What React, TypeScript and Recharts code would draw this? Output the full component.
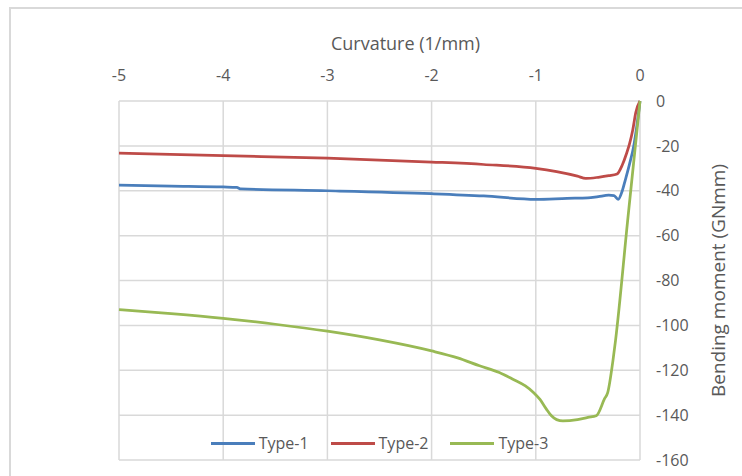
import React from 'react';
import { LineChart, Line, XAxis, YAxis, CartesianGrid, Legend, Label } from 'recharts';

// Type-1
const type1Curvature = [-5, -4.5, -4, -3.87, -3.83, -3, -2, -1.5, -1.0, -0.7, -0.5, -0.4, -0.3, -0.25, -0.21, -0.17, -0.14, -0.1, -0.06, -0.03, 0];
const type1Moment = [-37.5, -37.9, -38.3, -38.5, -39.2, -40.0, -41.3, -42.3, -43.8, -43.4, -43.2, -42.6, -42.0, -42.2, -43.8, -40.0, -35.0, -28.0, -20.0, -11.0, 0];

// Type-2
const type2Curvature = [-5, -4, -3, -2, -1.5, -1, -0.8, -0.6, -0.52, -0.4, -0.3, -0.22, -0.17, -0.13, -0.1, -0.07, -0.04, 0];
const type2Moment = [-23.2, -24.4, -25.5, -27.2, -28.3, -30.0, -31.5, -33.5, -34.5, -34.0, -33.3, -32.5, -28.5, -23.5, -19.0, -13.0, -5.0, 0];

// Type-3
const type3Curvature = [-5, -4.5, -4, -3.5, -3, -2.5, -2, -1.75, -1.54, -1.35, -1.22, -1.1, -1.02, -0.96, -0.9, -0.85, -0.8, -0.74, -0.6, -0.5, -0.42, -0.34, -0.31, -0.26, -0.235, -0.12, 0];
const type3Moment = [-93.0, -94.8, -96.9, -99.5, -102.6, -106.5, -111.4, -114.5, -118.0, -121.0, -124.0, -127.0, -130.0, -133.0, -137.2, -140.3, -142.0, -142.6, -142.0, -141.0, -140.3, -132.7, -130.0, -115.8, -106.8, -54.0, 0];

const xTicks = [-5, -4, -3, -2, -1, 0];
const yTicks = [0, -20, -40, -60, -80, -100, -120, -140, -160];

const seriesNames = ['Type-1', 'Type-2', 'Type-3'];
const seriesColors = ['#4A7EBB', '#BE4B48', '#98B954'];

const toPoints = (xs: number[], ys: number[]) => xs.map((x, i) => ({ x, y: ys[i] }));

const series = [
  toPoints(type1Curvature, type1Moment),
  toPoints(type2Curvature, type2Moment),
  toPoints(type3Curvature, type3Moment),
];

const FONT = '"Open Sans", sans-serif';
const TEXT = '#595959';

function LegendBox() {
  return (
    <div style={{ display: 'flex', justifyContent: 'center', alignItems: 'center', fontFamily: FONT, fontSize: 16, color: TEXT }}>
      {seriesNames.map((name, i) => (
        <div key={name} style={{ display: 'flex', alignItems: 'center', marginRight: i < 2 ? 22 : 0 }}>
          <div style={{ width: 44, height: 3, background: seriesColors[i], marginRight: 4 }} />
          <span>{name}</span>
        </div>
      ))}
    </div>
  );
}

export default function App() {
  return (
    <div style={{ position: 'absolute', left: 0, top: 0, width: 742, height: 476, overflow: 'hidden', background: '#fff' }}>
      <div style={{ position: 'absolute', left: 9, top: 7, width: 800, height: 520, border: '2px solid #D9D9D9' }} />
      <LineChart
        width={742}
        height={476}
        margin={{ top: 0, right: 0, left: 119, bottom: 16 }}
        style={{ position: 'absolute', left: 0, top: 0 }}
      >
        <CartesianGrid stroke="#D9D9D9" strokeWidth={1.5} />
        <XAxis
          type="number"
          dataKey="x"
          orientation="top"
          domain={[-5, 0]}
          ticks={xTicks}
          height={101}
          axisLine={false}
          tickLine={false}
          tickMargin={14}
          tick={{ fill: TEXT, fontSize: 16, fontFamily: FONT }}
          allowDuplicatedCategory={false}
        >
          <Label
            content={(props: any) => {
              const vb = props.viewBox;
              return (
                <text x={vb.x + vb.width / 2 + 26} y={50} textAnchor="middle" fill={TEXT} fontSize={18} fontFamily={FONT}>
                  Curvature (1/mm)
                </text>
              );
            }}
          />
        </XAxis>
        <YAxis
          type="number"
          dataKey="y"
          orientation="right"
          domain={[-160, 0]}
          ticks={yTicks}
          width={102}
          axisLine={false}
          tickLine={false}
          tickMargin={10}
          tick={{ fill: TEXT, fontSize: 16, fontFamily: FONT, textAnchor: 'start' }}
        >
          <Label
            value="Bending moment (GNmm)"
            angle={-90}
            position="insideRight"
            offset={24}
            style={{ fill: TEXT, fontSize: 19, fontFamily: FONT, textAnchor: 'middle' }}
          />
        </YAxis>
        <Legend
          content={() => <LegendBox />}
          wrapperStyle={{ left: 119, width: 521, top: 432 }}
          verticalAlign="middle"
        />
        {series.map((pts, i) => (
          <Line
            key={seriesNames[i]}
            data={pts}
            dataKey="y"
            name={seriesNames[i]}
            type="monotone"
            stroke={seriesColors[i]}
            strokeWidth={2.75}
            dot={false}
            isAnimationActive={false}
          />
        ))}
      </LineChart>
    </div>
  );
}
